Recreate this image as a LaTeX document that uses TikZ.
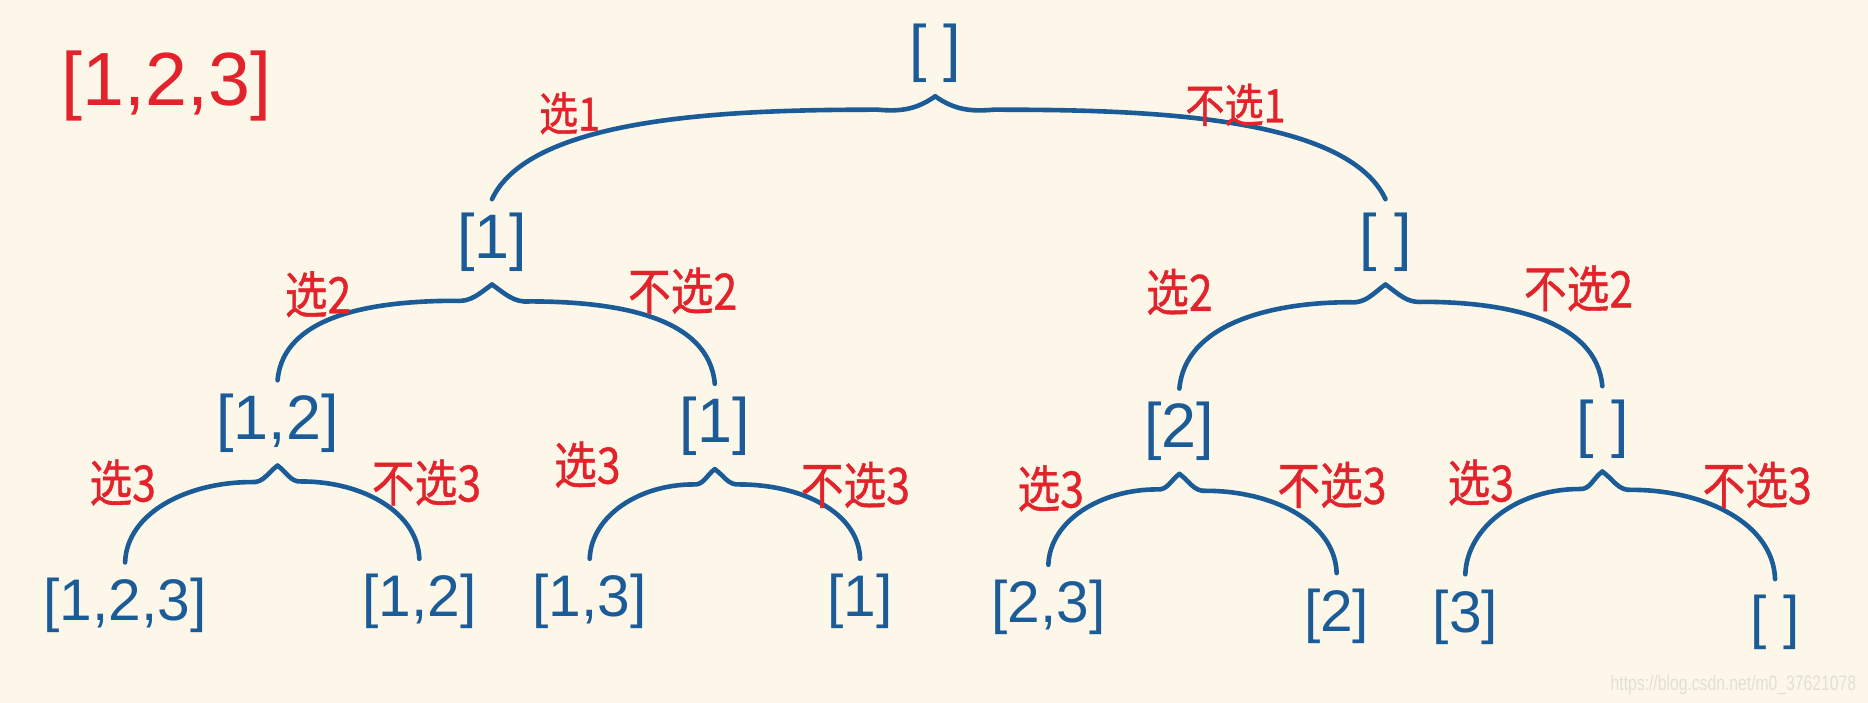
\documentclass[tikz,border=0pt]{standalone}
\usepackage{fontspec}
\setmainfont{Liberation Sans}
\newfontfamily\cjk[FakeStretch=0.85,FakeBold=0.8]{Noto Sans CJK SC}
\usetikzlibrary{calc}
\definecolor{bg}{HTML}{FCF7E8}
\definecolor{bl}{HTML}{1B5B97}
\definecolor{rd}{HTML}{E3232C}
\definecolor{wm}{HTML}{E3DFD6}
\tikzset{
 st/.style={text=bl, inner xsep=4pt, inner ysep=3pt, font=\fontsize{15}{18}\selectfont},
 lf/.style={text=bl, inner xsep=4pt, inner ysep=3.5pt, font=\fontsize{14}{17}\selectfont},
 lab/.style={text=rd, font=\cjk\fontsize{12}{14}\selectfont},
 labz/.style={text=rd, font=\cjk\fontsize{11}{13}\selectfont},
 br/.style={draw=bl, line width=1.1pt, line cap=round},
}
\newcommand\lhalf[3]{\draw[br] (#1) to[out=215,in=-5] ($(#1)!0.17!(#2)$) to[out=180,in=#3,out looseness=1.1,in looseness=0.85] (#2);}
\newcommand\rhalf[3]{\draw[br] (#1) to[out=-35,in=185] ($(#1)!0.17!(#2)$) to[out=0,in=#3,out looseness=1.1,in looseness=0.85] (#2);}
\begin{document}
\begin{tikzpicture}[x=0.01cm,y=0.01cm]
\fill[bg] (0,0) rectangle (1568,-590);
\useasboundingbox (0,0) rectangle (1568,-590);
% title
\node[text=rd, font=\fontsize{18}{21}\selectfont] (set) at (140,-72) {[1,2,3]};
% tree nodes
\node[st] (n0) at (785,-45) {[ ]};
\node[st] (n1) at (413,-203) {[1]};
\node[st] (n2) at (1163,-203) {[ ]};
\node[st] (n3) at (233,-355) {[1,2]};
\node[st] (n4) at (600,-358) {[1]};
\node[st] (n5) at (990,-362) {[2]};
\node[st] (n6) at (1345,-360) {[ ]};
\node[lf] (l1) at (105,-508) {[1,2,3]};
\node[lf] (l2) at (352,-505) {[1,2]};
\node[lf] (l3) at (495,-505) {[1,3]};
\node[lf] (l4) at (722,-505) {[1]};
\node[lf] (l5) at (880,-510) {[2,3]};
\node[lf] (l6) at (1122,-517) {[2]};
\node[lf] (l7) at (1230,-518) {[3]};
\node[lf] (l8) at (1490,-522) {[ ]};
% root brace
\draw[br] (n0.south) to[out=215,in=-5] ($(n0.south)!0.13!(n1.north)$) to[out=180,in=65,out looseness=0.9,in looseness=0.6] (n1.north);
\draw[br] (n0.south) to[out=-35,in=185] ($(n0.south)!0.13!(n2.north)$) to[out=0,in=115,out looseness=0.9,in looseness=0.6] (n2.north);
% level 1 braces
\lhalf{n1.south}{n3.north}{85}
\rhalf{n1.south}{n4.north}{95}
\lhalf{n2.south}{n5.north}{85}
\rhalf{n2.south}{n6.north}{95}
% level 2 braces
\lhalf{n3.south}{l1.north}{88}
\rhalf{n3.south}{l2.north}{92}
\lhalf{n4.south}{l3.north}{88}
\rhalf{n4.south}{l4.north}{92}
\lhalf{n5.south}{l5.north}{88}
\rhalf{n5.south}{l6.north}{92}
\lhalf{n6.south}{l7.north}{88}
\rhalf{n6.south}{l8.north}{92}
% labels
\node[labz] (a0) at (478,-95) {选1};
\node[labz] (b0) at (1037,-88) {不选1};
\node[lab] (a1) at (267,-247) {选2};
\node[lab] (b1) at (573,-244) {不选2};
\node[lab] (a2) at (990,-245) {选2};
\node[lab] (b2) at (1325,-242) {不选2};
\node[lab] (a3) at (103,-405) {选3};
\node[lab] (b3) at (358,-405) {不选3};
\node[lab] (a4) at (493,-390) {选3};
\node[lab] (b4) at (718,-407) {不选3};
\node[lab] (a5) at (882,-410) {选3};
\node[lab] (b5) at (1118,-407) {不选3};
\node[lab] (a6) at (1243,-405) {选3};
\node[lab] (b6) at (1475,-407) {不选3};
% watermark
\node[text=wm] (wmk) at (1455,-575) {\scalebox{0.75}[1]{\fontsize{5}{6}\selectfont https://blog.csdn.net/m0\_37621078}};
\end{tikzpicture}
\end{document}
